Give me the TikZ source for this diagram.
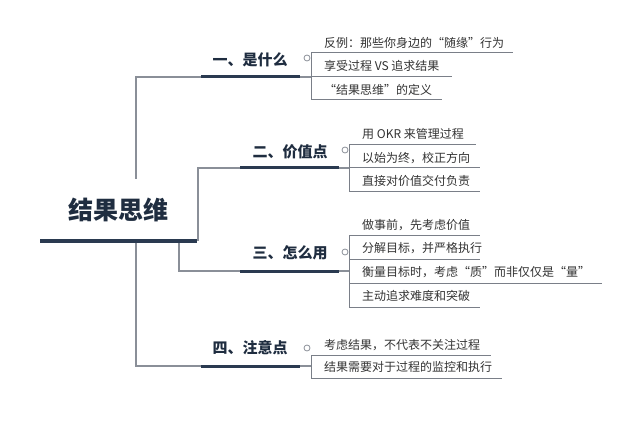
\documentclass[tikz,border=0pt]{standalone}
\usepackage{fontspec}
\setmainfont{Noto Sans CJK SC}
\newcommand\qL{\makebox[1em][r]{“}}
\newcommand\qR{\makebox[1em][l]{”}}
\definecolor{navy}{HTML}{2A3A50}
\definecolor{titlec}{HTML}{1F2D40}
\definecolor{conn}{HTML}{8A8F98}
\definecolor{uline}{HTML}{7A7F88}
\definecolor{txt}{HTML}{333333}
\tikzset{
  conline/.style={draw=conn, line width=1.2pt},
  chline/.style={draw=uline, line width=1pt},
  tline/.style={draw=navy, line width=3pt},
  rline/.style={draw=navy, line width=4pt},
  roottext/.style={fill=white, text=titlec, font=\bfseries\fontsize{25}{28}\selectfont, minimum width=154pt, minimum height=62pt, inner sep=0pt},
  titletext/.style={text=titlec, font=\bfseries\fontsize{15}{18}\selectfont, inner sep=0pt},
  childtext/.style={text=txt, font=\fontsize{12}{14}\selectfont, anchor=west, inner sep=0pt},
  knob/.style={circle, draw=conn, line width=0.8pt, minimum size=6pt, inner sep=0pt, fill=white}
}
\begin{document}
\begin{tikzpicture}[x=1pt,y=-1pt]
\useasboundingbox (0,0) rectangle (640,422);
\fill[white] (0,0) rectangle (640,422);

% coordinates of title underlines
\coordinate (b1l) at (201,77);  \coordinate (b1r) at (300,77);
\coordinate (b2l) at (240,168); \coordinate (b2r) at (339,168);
\coordinate (b3l) at (240,271); \coordinate (b3r) at (339,271);
\coordinate (b4l) at (201,366); \coordinate (b4r) at (300,366);

% connector lines from root (drawn behind root node)
\coordinate (rA) at (136,241);
\coordinate (rB) at (198,241);
\coordinate (rC) at (179,241);
\draw[conline] (rA) |- (b1l);
\draw[conline] (rA) |- (b4l);
\draw[conline] (rB) |- (b2l);
\draw[conline] (rC) |- (b3l);

% root
\node[roottext] (root) at (118,210) {结果思维};
\coordinate (rootl) at (40,241); \coordinate (rootr) at (197,241);
\draw[rline] (rootl) -- (rootr);

% titles
\node[titletext] (b1) at (250,60) {一、是什么};
\node[titletext] (b2) at (290,152) {二、价值点};
\node[titletext] (b3) at (290,253) {三、怎么用};
\node[titletext] (b4) at (250,348) {四、注意点};
\draw[tline] (b1l) -- (b1r);
\draw[tline] (b2l) -- (b2r);
\draw[tline] (b3l) -- (b3r);
\draw[tline] (b4l) -- (b4r);

% knobs
\node[knob] (k1) at (307,58) {};
\node[knob] (k2) at (345,150) {};
\node[knob] (k3) at (345,252) {};
\node[knob] (k4) at (307,348) {};

% branch 1 children
\coordinate (v1t) at (311,53); \coordinate (v1b) at (311,100);
\draw[conline] (b1r) -- (311,77);
\draw[chline] (v1t) -- (v1b);
\node[childtext] (c11) at (324,43) {反例：那些你身边的\qL 随缘\qR 行为};
\node[childtext] (c12) at (324,66) {享受过程 VS 追求结果};
\node[childtext] (c13) at (324,90) {\qL 结果思维\qR 的定义};
\coordinate (u11) at (513,53); \coordinate (u12) at (452,77); \coordinate (u13) at (442,100);
\draw[chline] (v1t) -- (u11);
\draw[chline] (311,77) -- (u12);
\draw[chline] (v1b) -- (u13);

% branch 2 children
\coordinate (v2t) at (349,145); \coordinate (v2b) at (349,192);
\draw[conline] (b2r) -- (349,168);
\draw[chline] (v2t) -- (v2b);
\node[childtext] (c21) at (362,134) {用 OKR 来管理过程};
\node[childtext] (c22) at (362,158) {以始为终，校正方向};
\node[childtext] (c23) at (362,181) {直接对价值交付负责};
\coordinate (u21) at (476,145); \coordinate (u22) at (480,168); \coordinate (u23) at (480,192);
\draw[chline] (v2t) -- (u21);
\draw[chline] (349,168) -- (u22);
\draw[chline] (v2b) -- (u23);

% branch 3 children
\coordinate (v3t) at (349,236); \coordinate (v3b) at (349,307);
\draw[conline] (b3r) -- (349,271);
\draw[chline] (v3t) -- (v3b);
\node[childtext] (c31) at (362,225) {做事前，先考虑价值};
\node[childtext] (c32) at (362,248) {分解目标，并严格执行};
\node[childtext] (c33) at (362,272) {衡量目标时，考虑\qL 质\qR 而非仅仅是\qL 量\qR};
\node[childtext] (c34) at (362,296) {主动追求难度和突破};
\coordinate (u31) at (480,236); \coordinate (u32) at (480,260); \coordinate (u33) at (602,283); \coordinate (u34) at (480,307);
\draw[chline] (v3t) -- (u31);
\draw[chline] (349,260) -- (u32);
\draw[chline] (349,283) -- (u33);
\draw[chline] (v3b) -- (u34);

% branch 4 children
\coordinate (v4t) at (311,355); \coordinate (v4b) at (311,378);
\draw[conline] (b4r) -- (311,366);
\draw[chline] (v4t) -- (v4b);
\node[childtext] (c41) at (324,345) {考虑结果，不代表不关注过程};
\node[childtext] (c42) at (324,367) {结果需要对于过程的监控和执行};
\coordinate (u41) at (491,355); \coordinate (u42) at (502,378);
\draw[chline] (v4t) -- (u41);
\draw[chline] (v4b) -- (u42);
\end{tikzpicture}
\end{document}
